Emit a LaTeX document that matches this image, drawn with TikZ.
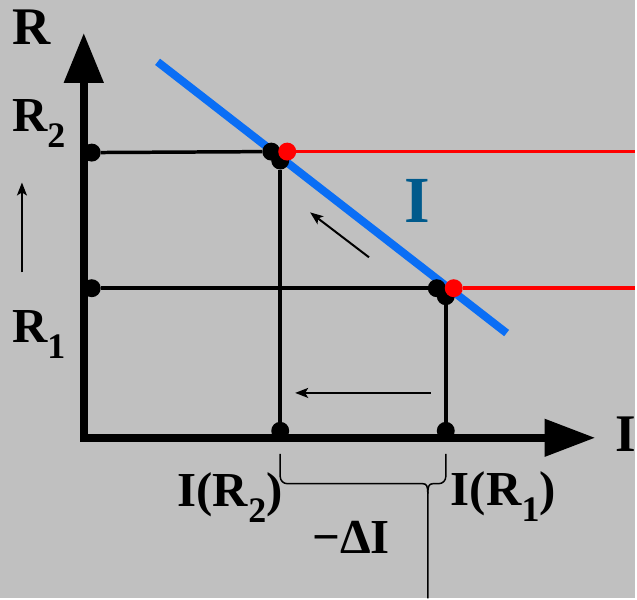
\documentclass[tikz,border=0pt]{standalone}
\usepackage{fontspec}
\setmainfont{Liberation Serif}
\usetikzlibrary{arrows.meta}
\definecolor{bgGray}{HTML}{C0C0C0}
\definecolor{lineBlue}{HTML}{0A6EF5}
\definecolor{labelBlue}{HTML}{005A8C}
\newcommand{\lowidx}[1]{\raisebox{-16bp}{\fontsize{36bp}{36bp}\selectfont #1}}

\begin{document}
\begin{tikzpicture}[x=1bp, y=-1bp,
  every node/.style={inner sep=0pt},
  lbl/.style={anchor=base west, font=\fontsize{49bp}{49bp}\selectfont\bfseries},
  dot/.style={circle, fill=black, minimum size=18bp},
  rdot/.style={dot, fill=red},
  axisline/.style={line width=8bp, line join=miter,
                   {Triangle[length=50bp,width=38bp]}-{Triangle[length=51bp,width=36bp]}},
  guide/.style={line width=3.5bp},
  hint/.style={-{Stealth[length=13bp,width=10bp,inset=3bp]}, line width=2bp},
  bracepen/.style={line width=1.5bp}
]
  % background and frame
  \fill[bgGray] (0,0) rectangle (637,600);

  % axes
  \coordinate (O) at (84,439);
  \coordinate (Rtip) at (84,33);
  \coordinate (Itip) at (597,439);
  \draw[axisline] (Rtip) -- (O) -- (Itip);

  % characteristic line
  \coordinate (lineA) at (158,62);
  \coordinate (lineB) at (508,334);
  \draw[lineBlue, line width=8bp] (lineA) -- (lineB);

  % points
  \node[dot] (axR2) at (92,153) {};
  \node[dot] (axR1) at (92,289) {};
  \node[dot] (hitR2) at (272,152) {};
  \node[dot] (lowR2) at (281,161) {};
  \node[rdot] (redR2) at (288,152) {};
  \node[dot] (hitR1) at (438,289) {};
  \node[dot] (lowR1) at (447,297) {};
  \node[rdot] (redR1) at (455,289) {};
  \node[dot] (footR2) at (281,432) {};
  \node[dot] (footR1) at (447,432) {};
  \coordinate (endR2) at (637,152);
  \coordinate (endR1) at (637,289);

  \draw[guide] (axR2) -- (hitR2);
  \draw[guide] (axR1) -- (hitR1);
  \draw[guide] (lowR2) -- (footR2);
  \draw[guide] (lowR1) -- (footR1);
  \draw[guide, red] (redR2) -- (endR2);
  \draw[guide, red] (redR1) -- (endR1);

  % hint arrows
  \coordinate (upA) at (22,273);
  \coordinate (upB) at (22,183);
  \draw[hint, line width=1.5bp] (upA) -- (upB);
  \coordinate (slA) at (370,258);
  \coordinate (slB) at (311,213);
  \draw[hint] (slA) -- (slB);
  \coordinate (leA) at (432,394);
  \coordinate (leB) at (296,394);
  \draw[hint] (leA) -- (leB);

  % brace
  \coordinate (brL) at (281,455);
  \coordinate (brR) at (447,455);
  \coordinate (brTip) at (429,600);
  \draw[bracepen, rounded corners=7bp] (brL) -- (281,485) -- (424,485);
  \draw[bracepen] (424,485) .. controls (428,485) and (429,488) .. (429,495) -- (brTip);
  \draw[bracepen, rounded corners=7bp] (brR) -- (447,485) -- (434,485);
  \draw[bracepen] (434,485) .. controls (430,485) and (429,488) .. (429,495);

  % labels
  \node[lbl, font=\fontsize{53bp}{53bp}\selectfont\bfseries] (labR) at (12,45) {R};
  \node[lbl] (labR2) at (12,132) {R\lowidx{2}};
  \node[lbl] (labR1) at (12,343) {R\lowidx{1}};
  \node[lbl, font=\fontsize{53bp}{53bp}\selectfont\bfseries] (labI) at (617,453) {I};
  \node[lbl, labelBlue, font=\fontsize{66bp}{66bp}\selectfont\bfseries] (labLine) at (405,223) {I};
  \node[lbl] (labIR2) at (178,508) {I(R\lowidx{2})};
  \node[lbl] (labIR1) at (452,507) {I(R\lowidx{1})};
  \node[lbl] (labDelta) at (313,555) {−ΔI};
\end{tikzpicture}
\end{document}
